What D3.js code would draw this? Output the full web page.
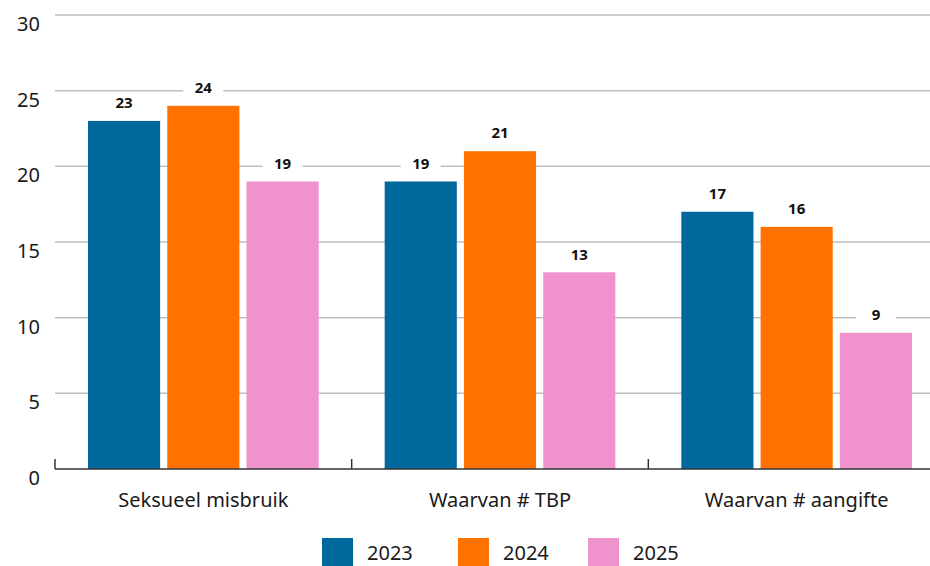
<!DOCTYPE html>
<html>
<head>
<meta charset="utf-8">
<script src="https://cdn.jsdelivr.net/npm/d3@7"></script>
<style>
  html, body { margin: 0; padding: 0; background: #fff; }
  svg { display: block; font-family: "Noto Sans", "Open Sans", sans-serif; }
</style>
</head>
<body>
<div id="chart"></div>
<script>
const WIDTH = 930;
const HEIGHT = 566;

const categories = ['Seksueel misbruik', 'Waarvan # TBP', 'Waarvan # aangifte'];
const years = ['2023', '2024', '2025'];
const values2023 = [23, 19, 17];
const values2024 = [24, 21, 16];
const values2025 = [19, 13, 9];
const yTicks = [0, 5, 10, 15, 20, 25, 30];

const COLOR = ['#01689b', '#ff7200', '#f092cd'];
const series = [values2023, values2024, values2025];

const margin = {top: 15, left: 55};
const plotW = 890;   // runs past the right edge, like the original
const plotH = 454;

const svg = d3.select('#chart').append('svg')
  .attr('width', WIDTH)
  .attr('height', HEIGHT);

const g = svg.append('g')
  .attr('transform', `translate(${margin.left},${margin.top})`);

const x0 = d3.scaleBand()
  .domain(categories)
  .range([0, plotW])
  .paddingInner(0)
  .paddingOuter(0);

const x1 = d3.scaleBand()
  .domain(years)
  .range([33, x0.bandwidth() - 33])
  .paddingInner(0.09);

const y = d3.scaleLinear()
  .domain([0, 30])
  .range([plotH, 0]);

// grid
g.append('g')
  .selectAll('line')
  .data(yTicks.filter(d => d > 0))
  .enter()
  .append('line')
  .attr('x1', 0)
  .attr('x2', plotW)
  .attr('y1', d => y(d))
  .attr('y2', d => y(d))
  .style('stroke', '#bfbfbf')
  .style('stroke-width', '1.5px');

// y labels
g.append('g')
  .selectAll('text')
  .data(yTicks)
  .enter()
  .append('text')
  .attr('x', -15)
  .attr('y', d => y(d) + 16)
  .attr('text-anchor', 'end')
  .style('font-size', '20px')
  .style('fill', '#1a1a1a')
  .text(d => d);

// bars
const groups = g.append('g')
  .selectAll('g')
  .data(categories)
  .enter()
  .append('g')
  .attr('transform', d => `translate(${x0(d)},0)`);

groups.selectAll('rect')
  .data((d, i) => years.map((yr, j) => ({yr, v: series[j][i], c: COLOR[j]})))
  .enter()
  .append('rect')
  .attr('x', d => x1(d.yr))
  .attr('width', x1.bandwidth())
  .attr('y', d => y(d.v))
  .attr('height', d => plotH - y(d.v))
  .attr('fill', d => d.c);

// value labels with white background
const lbl = groups.selectAll('g.lbl')
  .data((d, i) => years.map((yr, j) => ({yr, v: series[j][i]})))
  .enter()
  .append('g')
  .attr('class', 'lbl')
  .attr('transform', d => `translate(${x1(d.yr) + x1.bandwidth() / 2},${y(d.v) - 18})`);

lbl.append('rect')
  .attr('x', -20)
  .attr('y', -8)
  .attr('width', 40)
  .attr('height', 16)
  .attr('fill', '#fff');

lbl.append('text')
  .attr('text-anchor', 'middle')
  .attr('dy', '0.35em')
  .style('font-size', '15px')
  .style('font-weight', 'bold')
  .style('fill', '#111')
  .text(d => d.v);

// axis
g.append('line')
  .attr('x1', 0)
  .attr('x2', plotW)
  .attr('y1', plotH)
  .attr('y2', plotH)
  .style('stroke', '#333')
  .style('stroke-width', '1.5px');

g.append('g')
  .selectAll('line')
  .data(categories)
  .enter()
  .append('line')
  .attr('x1', d => x0(d))
  .attr('x2', d => x0(d))
  .attr('y1', plotH - 10)
  .attr('y2', plotH)
  .style('stroke', '#333')
  .style('stroke-width', '1.5px');

g.append('g')
  .selectAll('text')
  .data(categories)
  .enter()
  .append('text')
  .attr('x', d => x0(d) + x0.bandwidth() / 2)
  .attr('y', plotH + 38)
  .attr('text-anchor', 'middle')
  .style('font-size', '20px')
  .style('fill', '#1a1a1a')
  .text(d => d);

// legend
const legendX = [322, 458, 588];
const leg = svg.append('g')
  .selectAll('g')
  .data(years)
  .enter()
  .append('g')
  .attr('transform', (d, i) => `translate(${legendX[i]},538)`);

leg.append('rect')
  .attr('width', 31)
  .attr('height', 31)
  .attr('fill', (d, i) => COLOR[i]);

leg.append('text')
  .attr('x', 45)
  .attr('y', 22)
  .style('font-size', '20px')
  .style('fill', '#1a1a1a')
  .text(d => d);
</script>
</body>
</html>
